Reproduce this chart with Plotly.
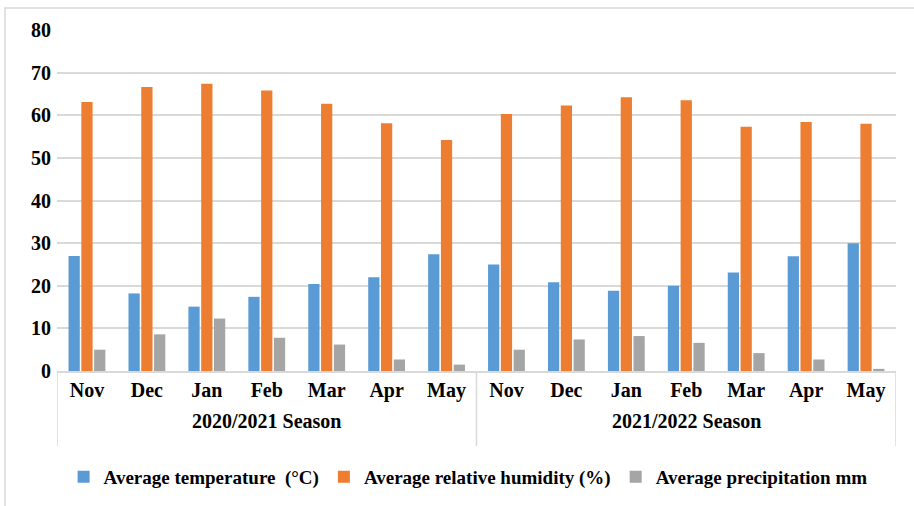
import plotly.graph_objects as go

seasons = ["2020/2021 Season"] * 7 + ["2021/2022 Season"] * 7
months = ["Nov", "Dec", "Jan", "Feb", "Mar", "Apr", "May"] * 2
temperature = [27.0, 18.2, 15.1, 17.4, 20.4, 22.0, 27.4,
               25.0, 20.8, 18.8, 20.0, 23.1, 26.9, 30.0]
humidity = [63.1, 66.6, 67.4, 65.8, 62.7, 58.1, 54.2,
            60.3, 62.3, 64.2, 63.5, 57.3, 58.4, 58.0]
precipitation = [5.0, 8.6, 12.3, 7.8, 6.2, 2.7, 1.5,
                 5.0, 7.4, 8.2, 6.6, 4.2, 2.7, 0.5]

names = ["Average temperature  (°C)", "Average relative humidity (%)", "Average precipitation mm"]
colors = ["#5B9BD5", "#ED7D31", "#A5A5A5"]

FONT = "Times New Roman, Liberation Serif, serif"
GRID = "#D9D9D9"

idx = list(range(len(months)))

fig = go.Figure()
for name, vals, col in zip(names, [temperature, humidity, precipitation], colors):
    fig.add_trace(go.Bar(x=idx, y=vals, name="<b>" + name + "</b>",
                         marker=dict(color=col, line=dict(width=0))))

W, H = 914, 506
L, R, T, B = 57, 18, 30, 135
PH = H - T - B
PW = W - L - R

# season labels and group dividers, positioned on the data axis
season_names = []
for s in seasons:
    if s not in season_names:
        season_names.append(s)
for s in season_names:
    pos = [i for i, v in enumerate(seasons) if v == s]
    fig.add_annotation(x=sum(pos) / len(pos), y=-(421 - (H - B)) / PH, xref="x", yref="paper",
                       text="<b>" + s + "</b>", showarrow=False,
                       font=dict(family=FONT, size=20, color="#000"), yanchor="middle")
bounds = [-0.5] + [i + 0.5 for i in range(len(seasons) - 1) if seasons[i] != seasons[i + 1]] + [len(seasons) - 0.5]
for bx in bounds:
    fig.add_shape(type="line", xref="x", yref="paper", x0=bx, x1=bx,
                  y0=0, y1=-(446 - (H - B)) / PH, line=dict(color=GRID, width=1.5))

fig.update_layout(
    width=W, height=H,
    margin=dict(l=L, r=R, t=T, b=B, autoexpand=False),
    paper_bgcolor="white", plot_bgcolor="white",
    font=dict(family=FONT, size=20, color="#000000"),
    barmode="group", bargap=0.36, bargroupgap=0.12,
    legend=dict(orientation="h", x=0.49, xanchor="center", y=-(458 - (H - B)) / PH, yanchor="top",
                font=dict(family=FONT, size=19), itemwidth=30, traceorder="normal",
                tracegroupgap=0),
    showlegend=True,
)
fig.update_yaxes(range=[0, 80], dtick=10, showgrid=True, gridcolor=GRID,
                 gridwidth=1.5, zeroline=False, showline=False, ticks="",
                 automargin=False,
                 tickfont=dict(family=FONT, size=20, weight="bold"), ticklabelstandoff=5)
fig.update_xaxes(range=[-0.5, len(months) - 0.5], tickmode="array", tickvals=idx,
                 ticktext=["<b>" + m + "</b>" for m in months],
                 showline=True, linecolor=GRID, linewidth=1.5, showgrid=False,
                 zeroline=False, automargin=False,
                 tickfont=dict(family=FONT, size=20), ticks="", ticklabelstandoff=0)

# outer chart border
fig.add_shape(type="rect", xref="paper", yref="paper",
              x0=(5 - L) / PW, x1=(W + 3 - L) / PW,
              y0=-(H + 3 - (H - B)) / PH, y1=1 + (T - 8) / PH,
              line=dict(color=GRID, width=1.5), fillcolor="rgba(0,0,0,0)", layer="below")

fig.write_html("out.html", config={"displayModeBar": False},
               post_script="document.body.style.margin='0';")
